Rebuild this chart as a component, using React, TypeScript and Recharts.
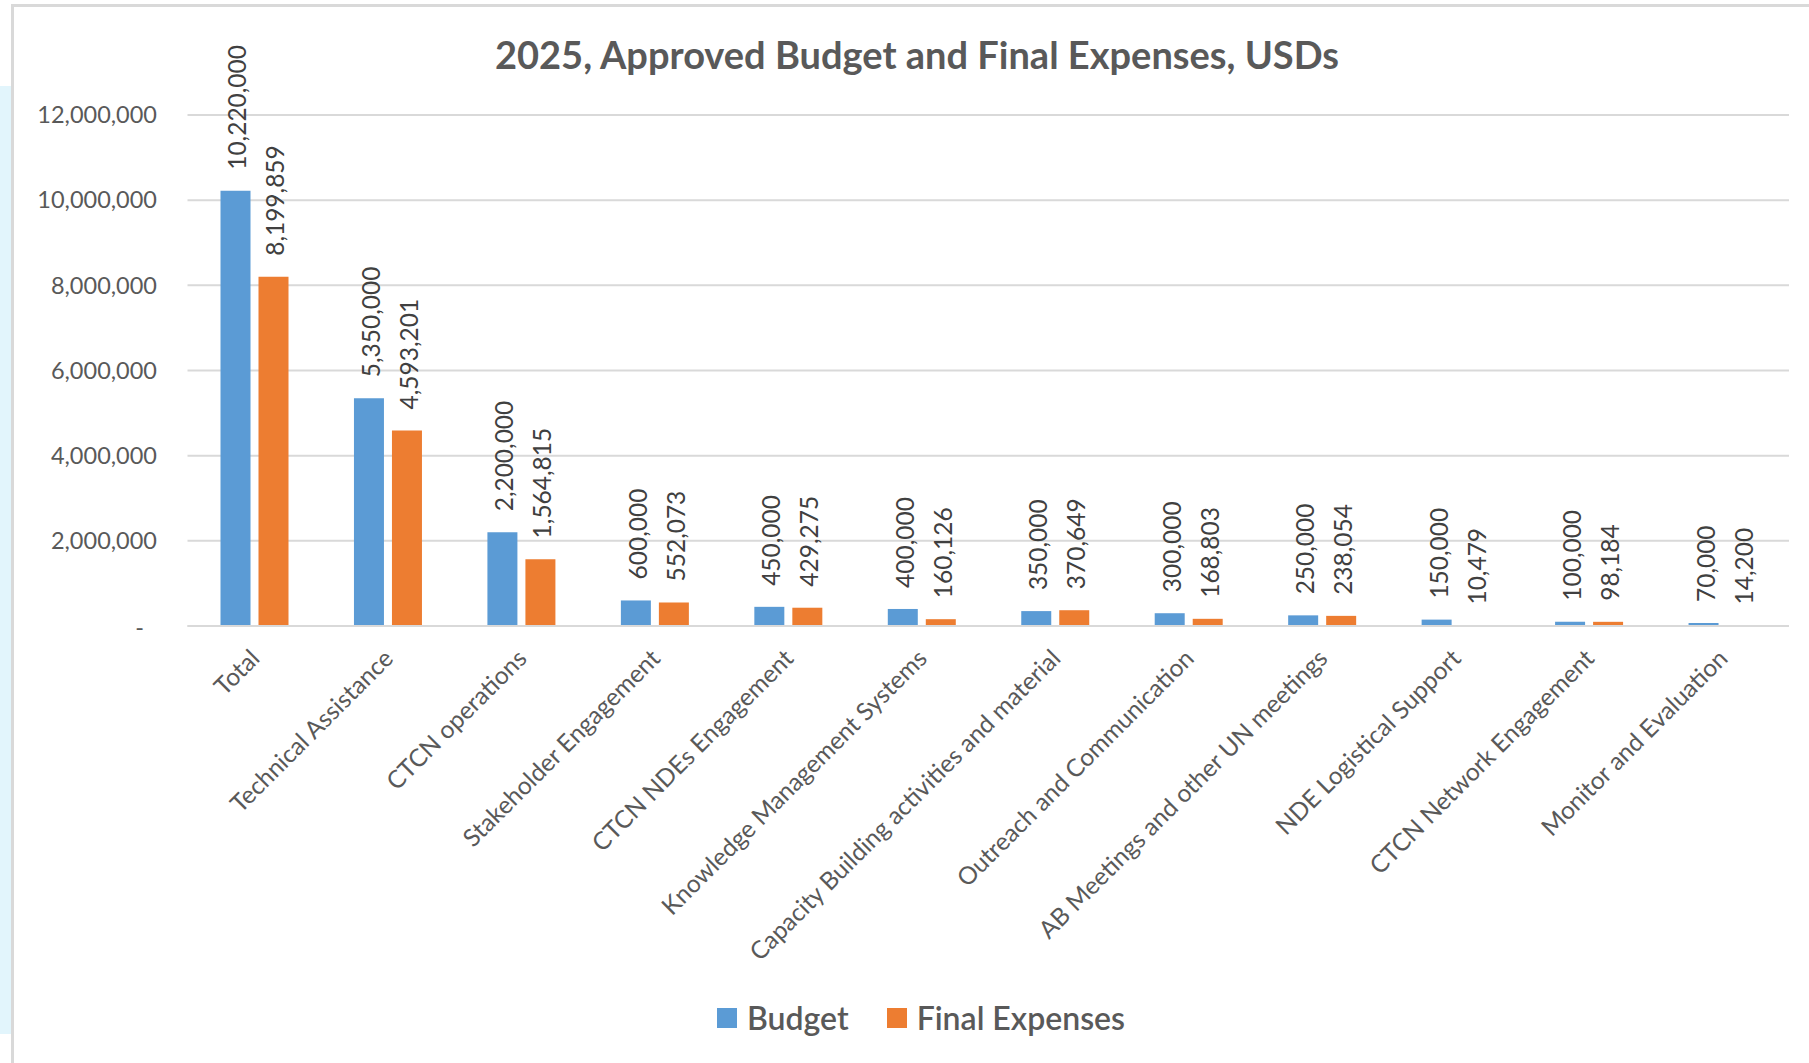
import React from 'react';
import { BarChart, Bar, XAxis, YAxis, CartesianGrid, LabelList, Legend } from 'recharts';

const title = '2025, Approved Budget and Final Expenses, USDs';
const categories = [
  'Total',
  'Technical Assistance',
  'CTCN operations',
  'Stakeholder Engagement',
  'CTCN NDEs Engagement',
  'Knowledge Management Systems',
  'Capacity Building activities and material',
  'Outreach and Communication',
  'AB Meetings and other UN meetings',
  'NDE Logistical Support',
  'CTCN Network Engagement',
  'Monitor and Evaluation',
];
const budget = [10220000, 5350000, 2200000, 600000, 450000, 400000, 350000, 300000, 250000, 150000, 100000, 70000];
const finalExpenses = [8199859, 4593201, 1564815, 552073, 429275, 160126, 370649, 168803, 238054, 10479, 98184, 14200];
const yTicks = [0, 2000000, 4000000, 6000000, 8000000, 10000000, 12000000];
const seriesKeys = ['budget', 'final'];
const seriesNames = ['Budget', 'Final Expenses'];
const seriesColors = ['#5B9BD5', '#ED7D31'];

const data = categories.map((name, i) => ({ name, budget: budget[i], final: finalExpenses[i] }));

const FONT = "Lato, 'Open Sans', sans-serif";
const AXIS_COLOR = '#595959';
const GRID = '#d9d9d9';

const fmt = (v: number) => v.toLocaleString('en-US');

const YTick = (props: any) => {
  const { x, y, payload } = props;
  const v = payload.value;
  if (v === 0) {
    return (
      <text x={x - 43.5} y={y + 2} dy="0.35em" textAnchor="end" fill={AXIS_COLOR} fontSize={23.5} fontFamily={FONT}>
        -
      </text>
    );
  }
  return (
    <text x={x - 30.5} y={y} dy="0.35em" textAnchor="end" fill={AXIS_COLOR} fontSize={23.5} fontFamily={FONT}>
      {fmt(v)}
    </text>
  );
};

const XTick = (props: any) => {
  const { x, y, payload } = props;
  const ex = x + 7;
  const ey = y + 34;
  return (
    <text
      x={ex}
      y={ey}
      transform={`rotate(-45 ${ex} ${ey})`}
      textAnchor="end"
      fill={AXIS_COLOR}
      fontSize={24.5}
      fontFamily={FONT}
    >
      {payload.value}
    </text>
  );
};

const BarLabel = (props: any) => {
  const { x, y, width, value } = props;
  const cx = x + width / 2 + 1.5;
  const ly = y - 21;
  return (
    <text
      x={cx}
      y={ly}
      transform={`rotate(-90 ${cx} ${ly})`}
      textAnchor="start"
      dominantBaseline="central"
      fill="#404040"
      fontSize={24.5}
      fontFamily={FONT}
    >
      {fmt(value)}
    </text>
  );
};

const LegendContent = () => (
  <div style={{ display: 'flex', alignItems: 'center', fontFamily: FONT, fontSize: 32, fontWeight: 600, color: AXIS_COLOR, whiteSpace: 'nowrap' }}>
    {seriesNames.map((n, i) => (
      <div key={n} style={{ display: 'flex', alignItems: 'center', marginRight: i === 0 ? 38 : 0 }}>
        <div style={{ width: 20, height: 20, background: seriesColors[i], marginRight: 10 }} />
        <span style={{ lineHeight: '32px' }}>{n}</span>
      </div>
    ))}
  </div>
);

export default function App() {
  return (
    <div style={{ position: 'absolute', left: 0, top: 0, width: 1809, height: 1063, overflow: 'hidden', background: '#fff' }}>
      <div style={{ position: 'absolute', left: 0, top: 86, width: 11, height: 948, background: '#E2F5FC' }} />
      <div
        style={{
          position: 'absolute',
          left: 11,
          top: 4,
          width: 1900,
          height: 1200,
          borderTop: `3px solid ${GRID}`,
          borderLeft: `3px solid ${GRID}`,
        }}
      />
      <div style={{ position: 'absolute', left: 0, top: 0 }}>
        <BarChart
          width={1809}
          height={1063}
          data={data}
          margin={{ top: 115, right: 20, bottom: 137, left: 0 }}
          barSize={30}
          barGap={8}
        >
          <CartesianGrid vertical={false} stroke={GRID} strokeWidth={2} />
          <XAxis
            dataKey="name"
            interval={0}
            height={300}
            tickSize={0}
            tickMargin={0}
            tickLine={false}
            axisLine={{ stroke: GRID, strokeWidth: 2 }}
            tick={<XTick />}
          />
          <YAxis
            width={187.5}
            domain={[0, 12000000]}
            ticks={yTicks}
            tickSize={0}
            tickMargin={0}
            tickLine={false}
            axisLine={false}
            tick={<YTick />}
            interval={0}
          />
          <Legend
            verticalAlign="middle"
            align="center"
            wrapperStyle={{ top: 1002, left: 717, width: 'auto' }}
            content={<LegendContent />}
          />
          {seriesKeys.map((k, i) => (
            <Bar key={k} dataKey={k} name={seriesNames[i]} fill={seriesColors[i]} isAnimationActive={false}>
              <LabelList dataKey={k} content={<BarLabel />} />
            </Bar>
          ))}
        </BarChart>
      </div>
      <svg style={{ position: 'absolute', left: 0, top: 0 }} width={1809} height={120}>
        <text x={917} y={69} textAnchor="middle" fill={AXIS_COLOR} fontSize={38} fontWeight={700} fontFamily={FONT}>
          {title}
        </text>
      </svg>
    </div>
  );
}
